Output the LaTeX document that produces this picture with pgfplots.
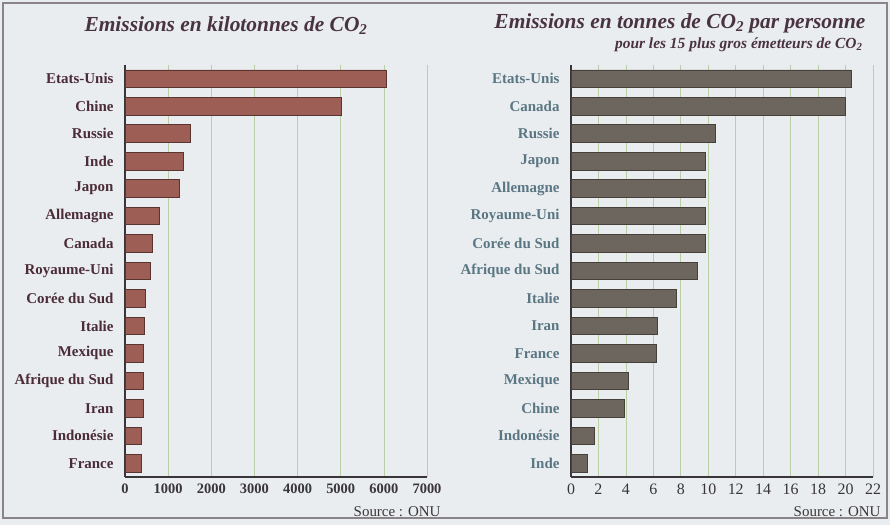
\documentclass[border=0pt]{standalone}
\usepackage{pgfplots}
\pgfplotsset{compat=1.18}
\usepackage{fontspec}
\setmainfont{Liberation Serif}
\definecolor{bg}{HTML}{E9EDEF}
\definecolor{frame}{HTML}{8A8486}
\definecolor{gridc}{HTML}{B9CFA6}
\definecolor{titlec}{HTML}{4A3340}
\definecolor{labL}{HTML}{4A2B36}
\definecolor{labR}{HTML}{5A7683}
\definecolor{barL}{HTML}{9C5E55}
\definecolor{barLd}{HTML}{5A3431}
\definecolor{barR}{HTML}{6C665F}
\definecolor{barRd}{HTML}{45403A}
\definecolor{axisc}{HTML}{3A3538}
\pgfplotsset{
  common/.style={
    scale only axis,
    width=302bp, height=412bp,
    xbar, bar width=0.64,
    y dir=reverse, ymin=-0.5, ymax=14.5,
    ytick={0,...,14},
    axis lines*=left,
    axis line style={axisc, line width=1.6pt},
    xmajorgrids, grid style={gridc, line width=0.7pt},
    major tick length=0pt,
    xmin=0,
    /pgf/number format/assume math mode=true,
    /pgf/number format/set thousands separator={},
    yticklabel style={font=\fontsize{15}{17}\selectfont\bfseries, xshift=-8bp},
    clip=false,
  }
}
\begin{document}
\begin{tikzpicture}[x=1bp,y=1bp]
\fill[bg] (0,0) rectangle (890,525);
\draw[frame, line width=1.6pt] (3,7) rectangle (887,522);

% Left chart
\begin{axis}[common, at={(125bp,48bp)}, anchor=south west,
  xmax=7000, xtick={0,1000,...,7000},
  xticklabel style={font=\fontsize{14.5}{16}\selectfont\bfseries, text=axisc, yshift=-3bp},
  yticklabel style={text=labL},
  yticklabels={Etats-Unis,Chine,Russie,Inde,Japon,Allemagne,Canada,Royaume-Uni,Corée du Sud,Italie,Mexique,Afrique du Sud,Iran,Indonésie,France}]
\addplot[fill=barL, draw=barLd, line width=0.8pt] coordinates {
(6049,0) (5010,1) (1524,2) (1342,3) (1257,4) (808,5) (639,6) (587,7) (465,8) (450,9) (438,10) (437,11) (433,12) (378,13) (373,14)};
\end{axis}

% Right chart
\begin{axis}[common, at={(571bp,48bp)}, anchor=south west,
  xmax=22, xtick={0,2,...,22},
  xticklabel style={font=\fontsize{16}{18}\selectfont, text=axisc, yshift=-3bp},
  yticklabel style={text=labR},
  yticklabels={Etats-Unis,Canada,Russie,Japon,Allemagne,Royaume-Uni,Corée du Sud,Afrique du Sud,Italie,Iran,France,Mexique,Chine,Indonésie,Inde}]
\addplot[fill=barR, draw=barRd, line width=0.8pt] coordinates {
(20.4,0) (20.0,1) (10.5,2) (9.8,3) (9.8,4) (9.8,5) (9.8,6) (9.2,7) (7.7,8) (6.3,9) (6.2,10) (4.2,11) (3.9,12) (1.7,13) (1.2,14)};
\end{axis}

\node[text=titlec, font=\fontsize{21.5}{24}\selectfont\bfseries\itshape] at (226,499) {Emissions en kilotonnes de CO\textsubscript{2}};
\node[text=titlec, font=\fontsize{21.5}{24}\selectfont\bfseries\itshape, anchor=east] at (869,502) {Emissions en tonnes de CO\textsubscript{2} par personne};
\node[text=titlec, font=\fontsize{15.5}{17}\selectfont\bfseries\itshape, anchor=east] at (866,480) {pour les 15 plus gros émetteurs de CO\textsubscript{2}};
\node[text=axisc, font=\fontsize{15}{17}\selectfont, anchor=east] at (444,13) {Source : ONU};
\node[text=axisc, font=\fontsize{15}{17}\selectfont, anchor=east] at (884,13) {Source : ONU};
\end{tikzpicture}
\end{document}
